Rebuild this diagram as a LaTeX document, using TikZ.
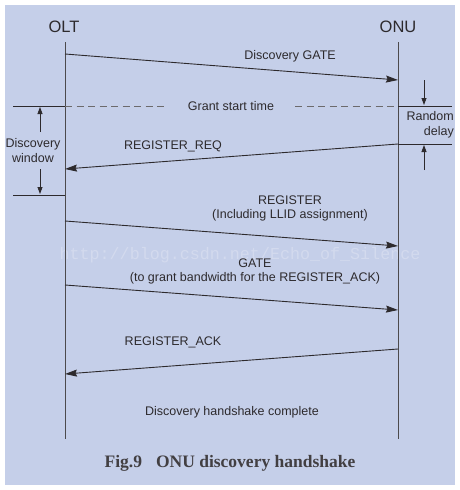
\documentclass[tikz,border=0pt]{standalone}
\usepackage{fontspec}
\setmainfont{Liberation Sans}
\newfontfamily\capfont{Liberation Serif}
\newfontfamily\wmfont{Liberation Mono}
\usetikzlibrary{arrows.meta}
\definecolor{bgblue}{RGB}{197,207,233}
\definecolor{wmcol}{RGB}{211,218,238}
\definecolor{ink}{RGB}{45,42,45}
\tikzset{
  lbl/.style={font=\fontsize{12.5}{14}\selectfont, text=ink, inner sep=0pt, align=center},
  hdr/.style={font=\fontsize{16.5}{18}\selectfont, text=ink, inner sep=0pt},
  life/.style={draw=ink!85, line width=0.8pt},
  msg/.style={draw=ink, line width=0.9pt, -{Stealth[length=12pt,width=7pt,inset=1.5pt]}},
  tickline/.style={draw=ink, line width=0.8pt},
  dashline/.style={draw=ink!70, line width=0.8pt, dash pattern=on 7pt off 4.5pt},
  small/.style={draw=ink, line width=0.8pt, -{Triangle[length=7pt,width=5pt]}}
}
\begin{document}
\begin{tikzpicture}[x=1pt,y=-1pt]
\useasboundingbox (0,0) rectangle (460,490);
\fill[white] (0,0) rectangle (460,490);
\fill[bgblue] (5,5) rectangle (455,485);
% watermark
\node[font=\wmfont\fontsize{16.7}{18}\selectfont, text=wmcol, inner sep=0pt] (wm) at (240,255) {http://blog.csdn.net/Echo\_of\_Silence};
% headers
\node[hdr] (olt) at (64,27) {OLT};
\node[hdr] (onu) at (398,27) {ONU};
% lifelines
\coordinate (oltT) at (65,42);
\coordinate (oltB) at (65,439);
\coordinate (onuT) at (398,42);
\coordinate (onuB) at (398,439);
\draw[life] (oltT) -- (oltB);
\draw[life] (onuT) -- (onuB);
% message end points
\coordinate (m1a) at (65,54);  \coordinate (m1b) at (398,80);
\coordinate (m2a) at (398,144); \coordinate (m2b) at (65,169);
\coordinate (m3a) at (65,221); \coordinate (m3b) at (398,246);
\coordinate (m4a) at (65,285); \coordinate (m4b) at (398,310);
\coordinate (m5a) at (398,349); \coordinate (m5b) at (65,374);
\draw[msg] (m1a) -- (m1b);
\draw[msg] (m2a) -- (m2b);
\draw[msg] (m3a) -- (m3b);
\draw[msg] (m4a) -- (m4b);
\draw[msg] (m5a) -- (m5b);
% labels
\node[lbl] (l1) at (290,56) {Discovery GATE};
\node[lbl] (l2) at (173,146) {REGISTER\_REQ};
\node[lbl] (l3) at (290,208) {REGISTER\\(Including LLID assignment)};
\node[lbl] (l4) at (255,271) {GATE\\(to grant bandwidth for the REGISTER\_ACK)};
\node[lbl] (l5) at (173,342) {REGISTER\_ACK};
\node[lbl] (l6) at (232,412) {Discovery handshake complete};
% grant start time line
\node[lbl] (gst) at (231,106) {Grant start time};
\coordinate (gL) at (13,106);
\coordinate (gR) at (452,106);
\coordinate (gd1) at (168,106);
\coordinate (gd2) at (295,106);
\coordinate (oltG) at (65,106);
\coordinate (onuG) at (398,106);
\draw[tickline] (gL) -- (oltG);
\draw[dashline] (oltG) -- (gd1);
\draw[dashline] (gd2) -- (onuG);
\draw[tickline] (onuG) -- (gR);
% random delay
\coordinate (rdL) at (398,144);
\coordinate (rdR) at (452,144);
\draw[tickline] (rdL) -- (rdR);
\coordinate (rdA1) at (424,80);  \coordinate (rdA2) at (424,105);
\coordinate (rdB1) at (424,170); \coordinate (rdB2) at (424,145);
\draw[small] (rdA1) -- (rdA2);
\draw[small] (rdB1) -- (rdB2);
\node[lbl, align=right, anchor=east, font=\fontsize{12.5}{15}\selectfont] (rd) at (454,125) {Random\\delay};
% discovery window
\coordinate (dwL) at (13,195);
\coordinate (dwR) at (65,195);
\draw[tickline] (dwL) -- (dwR);
\coordinate (dwA1) at (40,132); \coordinate (dwA2) at (40,107);
\coordinate (dwB1) at (40,169); \coordinate (dwB2) at (40,194);
\draw[small] (dwA1) -- (dwA2);
\draw[small] (dwB1) -- (dwB2);
\node[lbl, font=\fontsize{12.5}{15}\selectfont] (dw) at (33,151) {Discovery\\window};
% caption
\node[font=\capfont\bfseries\fontsize{17.5}{20}\selectfont, text=ink!90, inner sep=0pt] (cap) at (230,463) {Fig.9\hspace{14pt}ONU discovery handshake};
\end{tikzpicture}
\end{document}
